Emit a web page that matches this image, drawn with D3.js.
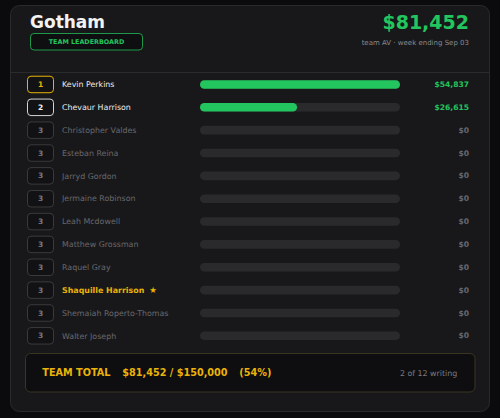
<!DOCTYPE html>
<html><head><meta charset="utf-8">
<script src="https://cdn.jsdelivr.net/npm/d3@7"></script>
<style>
html,body{margin:0;padding:0;background:#0b0b0d;}
svg{display:block;font-family:"DejaVu Sans",sans-serif;}
</style></head>
<body><svg id="c" width="500" height="418"></svg>
<script>
const teamName = "Gotham";
const badgeLabel = "TEAM LEADERBOARD";
const teamTotal = 81452;
const teamGoal = 150000;
const subtitle = "team AV · week ending Sep 03";
const agents = ["Kevin Perkins","Chevaur Harrison","Christopher Valdes","Esteban Reina","Jarryd Gordon","Jermaine Robinson","Leah Mcdowell","Matthew Grossman","Raquel Gray","Shaquille Harrison","Shemaiah Roperto-Thomas","Walter Joseph"];
const values = [54837,26615,0,0,0,0,0,0,0,0,0,0];
const ranks = [1,2,3,3,3,3,3,3,3,3,3,3];
const highlighted = ["Shaquille Harrison"];
const writingCount = 2;

const GREEN="#22c55e", GOLD="#eab308", DIM="#68686d";
const svg=d3.select("#c");
const fmt=d3.format("$,");

// card
svg.append("rect").attr("x",10.5).attr("y",5.5).attr("width",479).attr("height",406).attr("rx",9)
  .attr("fill","#18181a").attr("stroke","#2a2a2d");
svg.append("line").attr("x1",11).attr("x2",489).attr("y1",72.5).attr("y2",72.5).attr("stroke","#2b2b2e");

// header
svg.append("text").attr("x",30).attr("y",28).attr("fill","#f2f2f2").attr("font-weight","bold").attr("font-size",17).text(teamName);
svg.append("rect").attr("x",30.5).attr("y",33.5).attr("width",112).attr("height",16.5).attr("rx",3.5)
  .attr("fill","#0f0f11").attr("stroke",GREEN).attr("stroke-opacity",0.75);
svg.append("text").attr("x",86.5).attr("y",44.2).attr("text-anchor","middle").attr("fill",GREEN)
  .attr("font-weight","bold").attr("font-size",6.4).text(badgeLabel);
svg.append("text").attr("x",469).attr("y",29).attr("text-anchor","end").attr("fill",GREEN)
  .attr("font-weight","bold").attr("font-size",19).text(fmt(teamTotal));
svg.append("text").attr("x",469).attr("y",44.5).attr("text-anchor","end").attr("fill","#8a8a8f")
  .attr("font-size",7).text(subtitle);

// rows
const y=d3.scaleBand().domain(agents).range([73,347.2]);
const x=d3.scaleLinear().domain([0,d3.max(values)]).range([200,400]);
const rows=svg.selectAll("g.row").data(agents.map((n,i)=>({name:n,value:values[i],rank:ranks[i]})))
  .join("g").attr("class","row").attr("transform",d=>`translate(0,${y(d.name)+y.bandwidth()/2})`);

rows.append("rect").attr("x",27.5).attr("y",-8.2).attr("width",26).attr("height",16.5).attr("rx",3.5)
  .attr("fill","#121214")
  .attr("stroke",d=>d.rank===1?GOLD:d.rank===2?"#d4d4d6":"#3a3a3e");
rows.append("text").attr("x",40.5).attr("y",0).attr("dy","0.35em").attr("text-anchor","middle")
  .attr("font-weight","bold").attr("font-size",7.5)
  .attr("fill",d=>d.rank===1?GOLD:d.rank===2?"#f0f0f0":"#77777c").text(d=>d.rank);

const nm=rows.append("text").attr("x",62).attr("y",0).attr("dy","0.35em").attr("font-size",7.9)
  .attr("font-weight",d=>highlighted.includes(d.name)?"bold":"normal")
  .attr("fill",d=>highlighted.includes(d.name)?GOLD:d.value>0?"#ececee":DIM);
nm.append("tspan").text(d=>d.name);
nm.filter(d=>highlighted.includes(d.name)).append("tspan").attr("dx",5).attr("font-size",8.5).text("★");

rows.append("rect").attr("x",x(0)).attr("y",-4.3).attr("width",x.range()[1]-x(0)).attr("height",8.6).attr("rx",4.3)
  .attr("fill","#2a2a2d");
rows.filter(d=>d.value>0).append("rect").attr("x",x(0)).attr("y",-4.3).attr("width",d=>x(d.value)-x(0)).attr("height",8.6).attr("rx",4.3)
  .attr("fill",GREEN);
rows.append("text").attr("x",469).attr("y",0).attr("dy","0.35em").attr("text-anchor","end")
  .attr("font-weight","bold").attr("font-size",7.6)
  .attr("fill",d=>d.value>0?GREEN:DIM).text(d=>fmt(d.value));

// footer
svg.append("rect").attr("x",25.5).attr("y",353.5).attr("width",449.5).attr("height",38.5).attr("rx",5)
  .attr("fill","#0e0e10").attr("stroke","#3b3421");
const ft=svg.append("text").attr("x",42.3).attr("y",375.8).attr("fill",GOLD).attr("font-weight","bold").attr("font-size",9.7);
ft.append("tspan").text("TEAM TOTAL");
ft.append("tspan").attr("x",122.3).text(`${fmt(teamTotal)} / ${fmt(teamGoal)}`);
ft.append("tspan").attr("x",239.3).text(`(${Math.round(teamTotal/teamGoal*100)}%)`);
svg.append("text").attr("x",457.3).attr("y",375.5).attr("text-anchor","end").attr("fill","#7c7c81")
  .attr("font-size",7.9).text(`${writingCount} of ${agents.length} writing`);
</script></body></html>
